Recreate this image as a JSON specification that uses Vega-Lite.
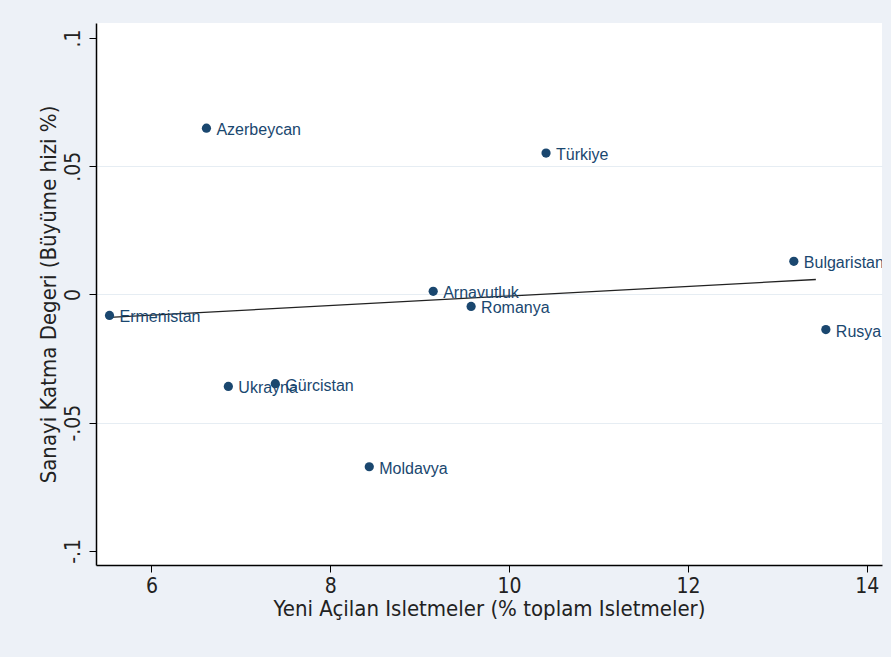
{
  "$schema": "https://vega.github.io/schema/vega-lite/v6.json",
  "width": 786,
  "height": 542,
  "autosize": "none",
  "padding": {"left": 96, "top": 23, "right": 9, "bottom": 92},
  "background": "#edf1f7",
  "config": {
    "view": {"fill": "white", "stroke": null},
    "axis": {
      "domainColor": "#000000",
      "domainWidth": 1.5,
      "tickColor": "#000000",
      "tickSize": 7,
      "tickWidth": 1,
      "labelFont": "Liberation Sans Narrow, DejaVu Sans Condensed, sans-serif",
      "labelFontSize": 21,
      "labelColor": "#222222",
      "titleFont": "Liberation Sans Narrow, DejaVu Sans Condensed, sans-serif",
      "titleFontSize": 22,
      "titleFontWeight": "normal",
      "titleColor": "#222222"
    }
  },
  "datasets": {
    "pts": [
      {"country": "Ermenistan", "x": 5.531, "y": -0.0082},
      {"country": "Azerbeycan", "x": 6.615, "y": 0.0648},
      {"country": "Türkiye", "x": 10.413, "y": 0.0551},
      {"country": "Arnavutluk", "x": 9.151, "y": 0.0012},
      {"country": "Romanya", "x": 9.575, "y": -0.0047},
      {"country": "Bulgaristan", "x": 13.184, "y": 0.0129},
      {"country": "Rusya", "x": 13.542, "y": -0.0137},
      {"country": "Ukrayna", "x": 6.86, "y": -0.0359},
      {"country": "Gürcistan", "x": 7.385, "y": -0.0348},
      {"country": "Moldavya", "x": 8.436, "y": -0.0672}
    ],
    "fit": [
      {"x": 5.531, "y": -0.0090},
      {"x": 13.43, "y": 0.0058}
    ]
  },
  "layer": [
    {
      "data": {"name": "fit"},
      "mark": {"type": "line", "color": "#222222", "strokeWidth": 1.3},
      "encoding": {
        "x": {
          "field": "x", "type": "quantitative",
          "scale": {"domain": [5.38, 14.17], "nice": false, "zero": false},
          "axis": {
            "values": [6, 8, 10, 12, 14],
            "format": "d",
            "grid": false,
            "title": "Yeni Açilan Isletmeler (% toplam Isletmeler)",
            "labelPadding": 3,
            "titlePadding": 2
          }
        },
        "y": {
          "field": "y", "type": "quantitative",
          "scale": {"domain": [-0.1055, 0.1058], "nice": false, "zero": false},
          "axis": {
            "values": [-0.1, -0.05, 0, 0.05, 0.1],
            "labelExpr": "datum.value == 0 ? '0' : replace(replace(format(datum.value, '.2~f'), '−', '-'), '0.', '.')",
            "labelAngle": -90,
            "labelAlign": "center",
            "labelBaseline": "bottom",
            "labelPadding": 6,
            "grid": true,
            "gridColor": {"condition": {"test": "abs(datum.value) > 0.09", "value": "transparent"}, "value": "#e6edf3"},
            "gridWidth": 1,
            "title": "Sanayi Katma Degeri (Büyüme hizi %)",
            "titlePadding": 2
          }
        }
      }
    },
    {
      "data": {"name": "pts"},
      "mark": {"type": "point", "filled": true, "shape": "circle", "size": 85, "color": "#1a476f", "opacity": 1},
      "encoding": {
        "x": {"field": "x", "type": "quantitative"},
        "y": {"field": "y", "type": "quantitative"}
      }
    },
    {
      "data": {"name": "pts"},
      "mark": {"type": "text", "align": "left", "baseline": "middle", "dx": 10, "dy": 2, "font": "Liberation Sans, Arial, sans-serif", "fontSize": 16, "color": "#1a476f", "clip": true},
      "encoding": {
        "x": {"field": "x", "type": "quantitative"},
        "y": {"field": "y", "type": "quantitative"},
        "text": {"field": "country"}
      }
    }
  ]
}
